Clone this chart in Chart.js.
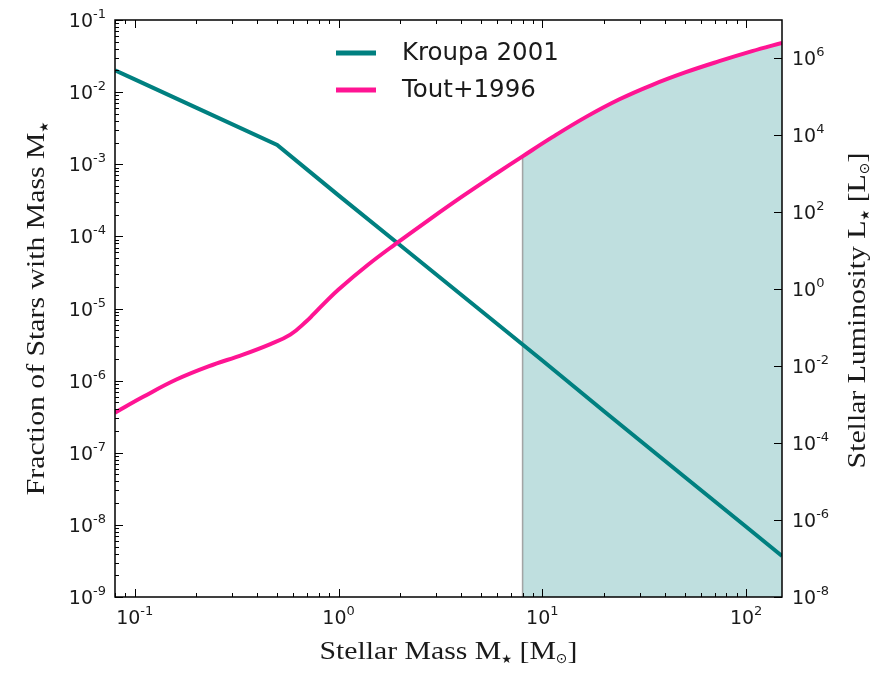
<!DOCTYPE html>
<html>
<head>
<meta charset="utf-8">
<title>IMF and luminosity</title>
<script src="https://cdn.jsdelivr.net/npm/chart.js@4.4.1/dist/chart.umd.min.js"></script>
<style>
  html, body { margin: 0; padding: 0; background: #fff; }
  #wrap { width: 875px; height: 673px; }
</style>
</head>
<body>
<div id="wrap"><canvas id="imf" width="875" height="673"></canvas></div>
<script>
// Kroupa 2001 IMF
const kroupaMass = [0.08, 0.1, 0.2, 0.5, 1, 2, 5, 10, 20, 50, 100, 150];
const kroupaFrac = [2.0e-2, 1.5e-2, 6.1e-3, 1.85e-3, 3.7e-4, 7.6e-5, 9.3e-6, 1.9e-6, 3.8e-7, 4.6e-8, 9.4e-9, 3.7e-9];

// Tout+1996 mass-luminosity relation
const toutMass = [0.08, 0.11, 0.16, 0.23, 0.34, 0.46, 0.58, 0.70, 0.75, 0.85, 1.0, 1.4, 1.9, 2.8, 4.1, 5.9, 8.0, 11.2, 16.4, 23.9, 34.7, 50.6, 73.8, 107, 150];
const toutLum = [6.2e-4, 1.6e-3, 4.5e-3, 9.9e-3, 2.0e-2, 3.7e-2, 6.6e-2, 0.152, 0.218, 0.43, 0.99, 4.4, 14.9, 66, 272, 990, 2850, 9000, 3.03e4, 8.7e4, 2.07e5, 4.4e5, 8.5e5, 1.55e6, 2.55e6];

// shaded region starts at 8 Msun
const massiveCut = 8.0;

const xTicks = [0.1, 1, 10, 100];
const yTicks = [1e-9, 1e-8, 1e-7, 1e-6, 1e-5, 1e-4, 1e-3, 1e-2, 1e-1];
const y2Ticks = [1e-8, 1e-6, 1e-4, 1e-2, 1, 1e2, 1e4, 1e6];

const TEAL = '#008080';
const PINK = '#ff1493';
const SANS = '"DejaVu Sans", sans-serif';
const SERIF = '"Liberation Serif", "DejaVu Serif", serif';
const SERIF_STRETCH = 1.19;

function pts(xs, ys) {
    return xs.map((x, i) => ({ x: x, y: ys[i] }));
}

const massivePts = pts(toutMass, toutLum).filter(p => p.x >= massiveCut);
const cutLine = [{ x: massiveCut, y: 1e-8 }, { x: massiveCut, y: massivePts[0].y }];

// draw a run of text pieces: [text, size, dy, family, stretch]
function drawRich(ctx, parts, x, y, align) {
    let total = 0;
    parts.forEach(p => {
        ctx.font = p[1] + 'px ' + (p[3] || SANS);
        p.w = ctx.measureText(p[0]).width * (p[4] || 1);
        total += p.w;
    });
    let cx = x;
    if (align === 'center') cx = x - total / 2;
    if (align === 'right') cx = x - total;
    ctx.textAlign = 'left';
    ctx.textBaseline = 'alphabetic';
    parts.forEach(p => {
        ctx.font = p[1] + 'px ' + (p[3] || SANS);
        ctx.save();
        ctx.translate(cx, y + (p[2] || 0));
        ctx.scale(p[4] || 1, 1);
        ctx.fillText(p[0], 0, 0);
        ctx.restore();
        cx += p.w;
    });
}

function powLabel(v) {
    const e = Math.round(Math.log10(v));
    return [['10', 19, 0], [String(e), 13, -9]];
}

function serif(t) {
    return [t, 25, 0, SERIF, SERIF_STRETCH];
}
const STAR = ['\u2605', 12, 4, SANS];
const SUN = ['\u2299', 14, 4, SANS];

const framePlugin = {
    id: 'framePlugin',
    afterDraw(chart) {
        const ctx = chart.ctx;
        const a = chart.chartArea;
        const sx = chart.scales.x, sy = chart.scales.y, sy2 = chart.scales.y2;
        ctx.save();
        ctx.fillStyle = '#000';
        ctx.strokeStyle = '#000';
        ctx.lineWidth = 1;

        // inward ticks
        ctx.beginPath();
        for (let d = -2; d <= 2; d++) {
            for (let k = 1; k <= 9; k++) {
                const v = k * Math.pow(10, d);
                if (v < sx.min || v > sx.max) continue;
                const px = Math.round(sx.getPixelForValue(v)) + 0.5;
                const len = k === 1 ? 8 : 4;
                ctx.moveTo(px, a.bottom); ctx.lineTo(px, a.bottom - len);
                ctx.moveTo(px, a.top); ctx.lineTo(px, a.top + len);
            }
        }
        for (let d = -9; d <= -1; d++) {
            for (let k = 1; k <= 9; k++) {
                const v = k * Math.pow(10, d);
                if (v < sy.min * 0.999 || v > sy.max * 1.001) continue;
                const py = Math.round(sy.getPixelForValue(v)) + 0.5;
                const len = k === 1 ? 8 : 4;
                ctx.moveTo(a.left, py); ctx.lineTo(a.left + len, py);
            }
        }
        y2Ticks.forEach(v => {
            const py = Math.round(sy2.getPixelForValue(v)) + 0.5;
            ctx.moveTo(a.right, py); ctx.lineTo(a.right - 8, py);
        });
        ctx.stroke();

        // frame
        ctx.lineWidth = 1.5;
        ctx.strokeRect(a.left, a.top, a.right - a.left, a.bottom - a.top);

        // tick labels
        ctx.fillStyle = '#1a1a1a';
        yTicks.forEach(v => {
            drawRich(ctx, powLabel(v), 106, sy.getPixelForValue(v) + 7, 'right');
        });
        xTicks.forEach(v => {
            drawRich(ctx, powLabel(v), sx.getPixelForValue(v), a.bottom + 27, 'center');
        });
        y2Ticks.forEach(v => {
            drawRich(ctx, powLabel(v), a.right + 10, sy2.getPixelForValue(v) + 7, 'left');
        });

        // axis titles
        const mid = (a.top + a.bottom) / 2;
        drawRich(ctx, [serif('Stellar Mass M'), STAR, serif(' [M'), SUN, serif(']')],
            (a.left + a.right) / 2, 659, 'center');

        ctx.save();
        ctx.translate(44, mid);
        ctx.rotate(-Math.PI / 2);
        drawRich(ctx, [serif('Fraction of Stars with Mass M'), STAR], 0, 0, 'center');
        ctx.restore();

        ctx.save();
        ctx.translate(865, mid + 2);
        ctx.rotate(-Math.PI / 2);
        drawRich(ctx, [serif('Stellar Luminosity L'), STAR, serif(' [L'), SUN, serif(']')], 0, 0, 'center');
        ctx.restore();

        // legend inside the axes
        const items = [
            { label: chart.data.datasets[0].label, color: TEAL, y: 53 },
            { label: chart.data.datasets[1].label, color: PINK, y: 90 }
        ];
        items.forEach(it => {
            ctx.strokeStyle = it.color;
            ctx.lineWidth = 5;
            ctx.beginPath();
            ctx.moveTo(336, it.y); ctx.lineTo(376, it.y);
            ctx.stroke();
            ctx.fillStyle = '#1a1a1a';
            ctx.font = '24.5px ' + SANS;
            ctx.textAlign = 'left';
            ctx.textBaseline = 'middle';
            ctx.fillText(it.label, 402, it.y + 1);
        });
        ctx.restore();
    }
};

new Chart(document.getElementById('imf').getContext('2d'), {
    type: 'line',
    data: {
        datasets: [{
            label: 'Kroupa 2001',
            data: pts(kroupaMass, kroupaFrac),
            yAxisID: 'y',
            borderColor: TEAL,
            borderWidth: 4,
            pointRadius: 0,
            tension: 0,
            fill: false,
            order: 1
        }, {
            label: 'Tout+1996',
            data: pts(toutMass, toutLum),
            yAxisID: 'y2',
            borderColor: PINK,
            borderWidth: 4,
            pointRadius: 0,
            tension: 0.4,
            fill: false,
            order: 0
        }, {
            label: 'massive',
            data: massivePts,
            yAxisID: 'y2',
            borderWidth: 0,
            borderColor: 'rgba(0,0,0,0)',
            backgroundColor: 'rgba(0,128,128,0.25)',
            pointRadius: 0,
            tension: 0.4,
            fill: 'start',
            order: 3
        }, {
            label: 'cut',
            data: cutLine,
            yAxisID: 'y2',
            borderColor: 'rgba(128,128,128,0.7)',
            borderWidth: 1.5,
            pointRadius: 0,
            fill: false,
            order: 2
        }]
    },
    options: {
        responsive: false,
        devicePixelRatio: 1,
        animation: false,
        layout: { padding: { top: 20, left: 0, right: 0, bottom: 0 } },
        plugins: {
            legend: { display: false },
            tooltip: { enabled: false }
        },
        scales: {
            x: {
                type: 'logarithmic',
                min: 0.08,
                max: 150,
                bounds: 'data',
                grid: { display: false },
                border: { display: false },
                ticks: { display: false },
                afterFit(s) { s.height = 76; }
            },
            y: {
                type: 'logarithmic',
                position: 'left',
                min: 1e-9,
                max: 1e-1,
                bounds: 'data',
                grid: { display: false },
                border: { display: false },
                ticks: { display: false },
                afterFit(s) { s.width = 115; }
            },
            y2: {
                type: 'logarithmic',
                position: 'right',
                min: 1e-8,
                max: 1e7,
                bounds: 'data',
                grid: { display: false },
                border: { display: false },
                ticks: { display: false },
                afterFit(s) { s.width = 93; }
            }
        }
    },
    plugins: [framePlugin]
});
</script>
</body>
</html>
